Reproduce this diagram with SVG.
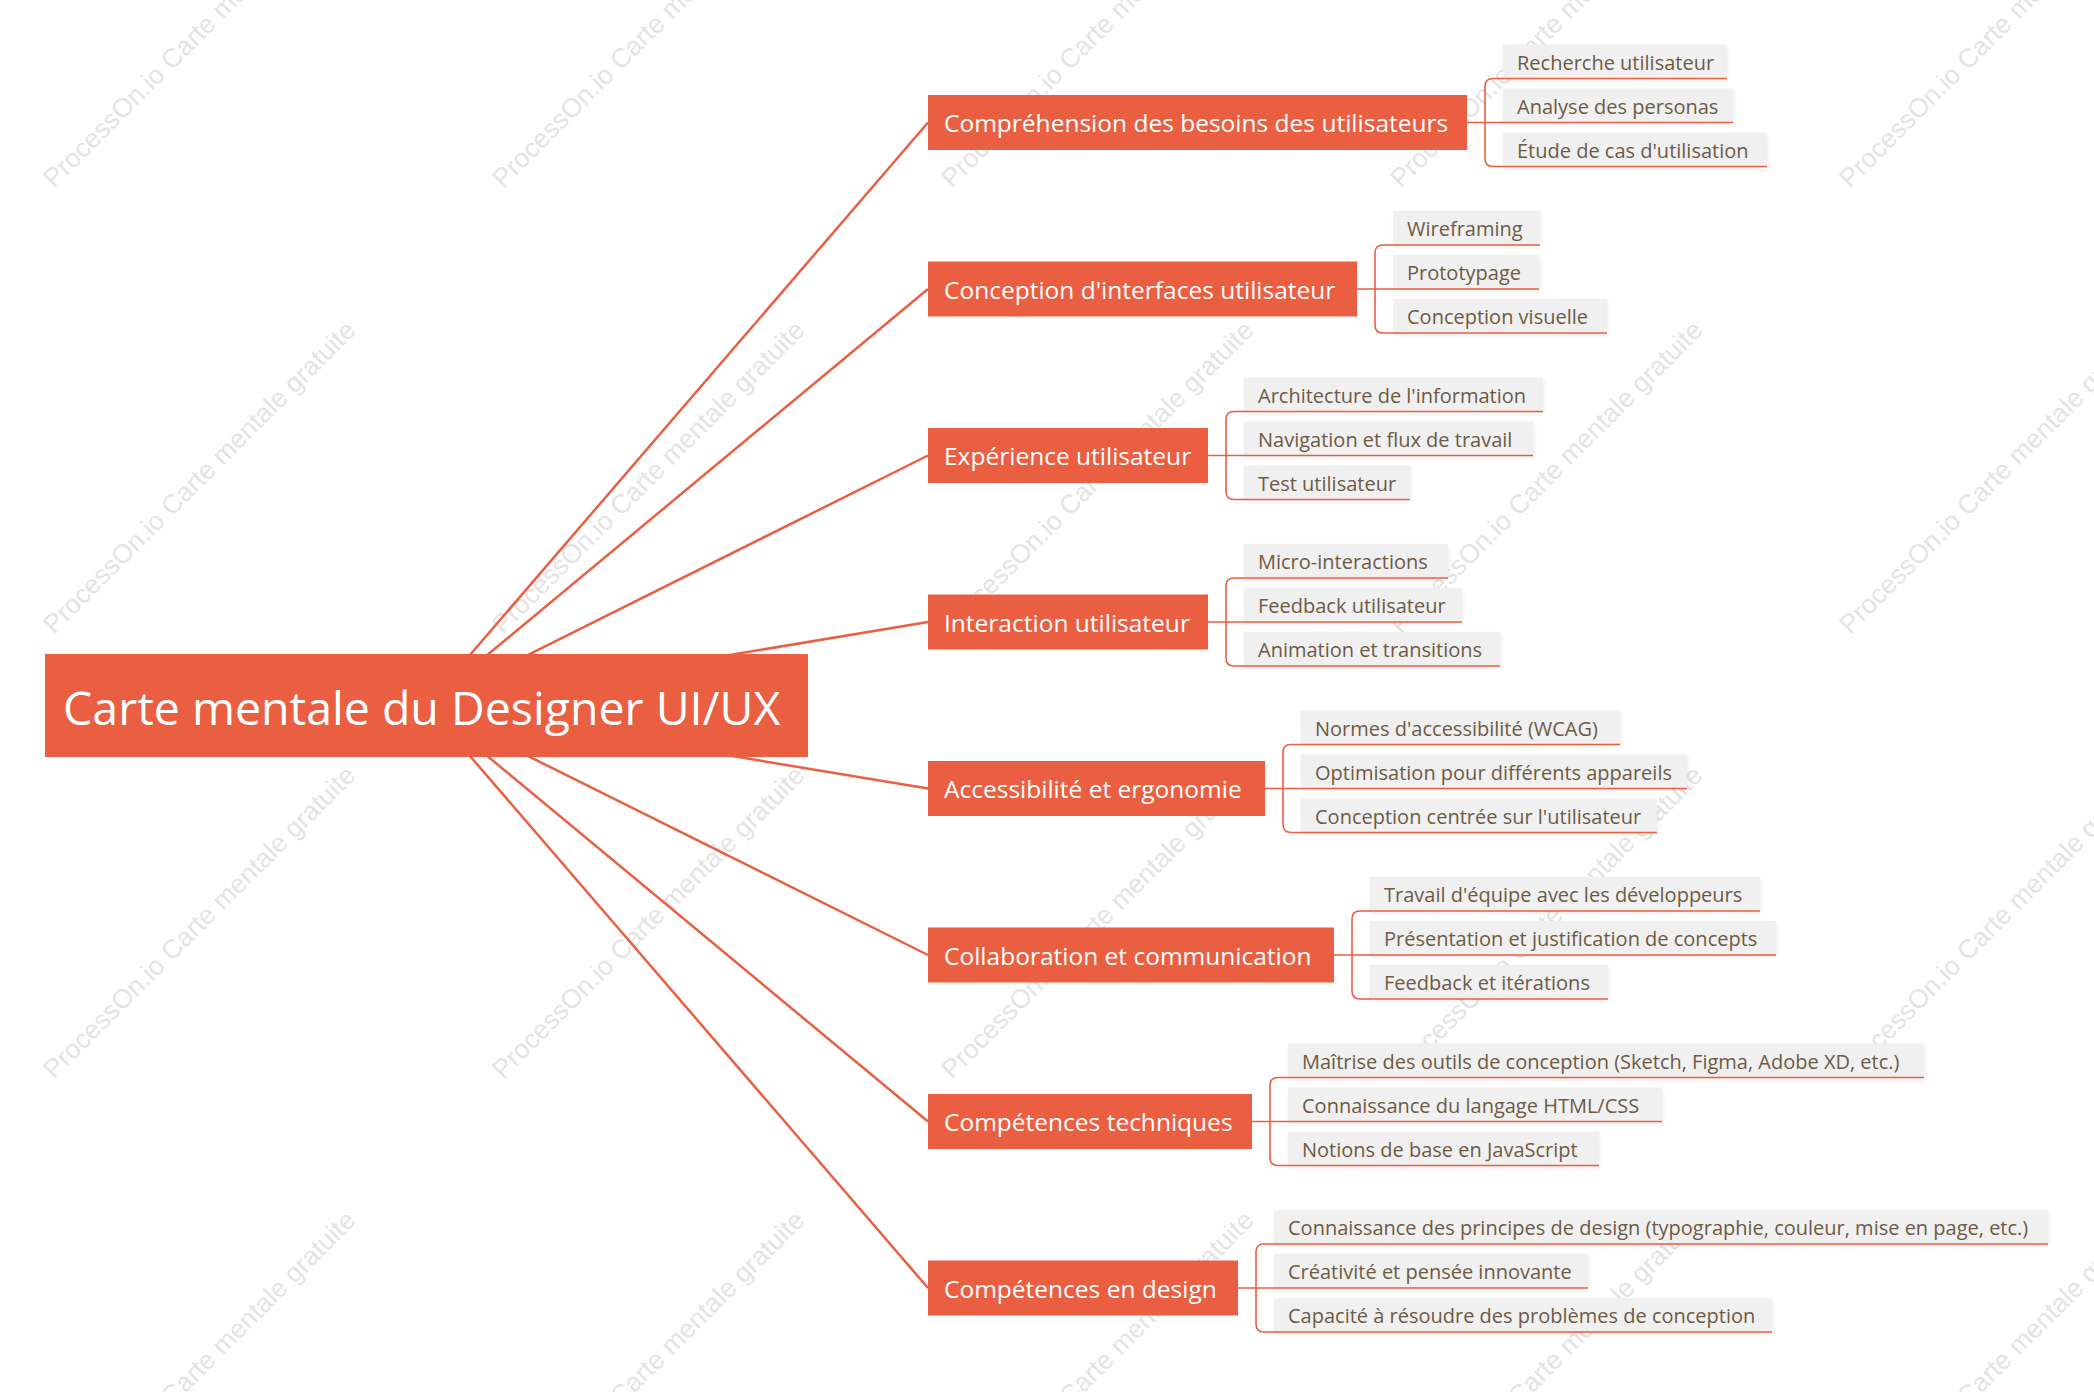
<svg xmlns="http://www.w3.org/2000/svg" width="2094" height="1392" viewBox="0 0 2094 1392">
<defs>
<style>
.wm{font-family:"Liberation Sans",Arial,sans-serif;font-size:26.5px;fill:#e4e4e4}
.ln{fill:none;stroke:#EA5F42;stroke-width:2.5}
.br{fill:none;stroke:#EA5F42;stroke-width:1.6}
.root{fill:#EA5F42}
.rt{font-family:"Open Sans","Noto Sans",sans-serif;font-size:46.5px;fill:#ffffff}
.main{fill:#EA5F42}
.mt{font-family:"Open Sans","Noto Sans",sans-serif;font-size:24.5px;fill:#ffffff}
.cb{fill:#f0f0f0;filter:url(#sh)}
.ul{stroke:#EA5F42;stroke-width:1.6}
.ct{font-family:"Open Sans","Noto Sans",sans-serif;font-size:20px;fill:#6E5A45}
</style>
<filter id="sh" x="-5%" y="-20%" width="110%" height="150%">
<feDropShadow dx="1" dy="2" stdDeviation="2" flood-color="#000" flood-opacity="0.08"/>
</filter>
</defs>
<rect width="2094" height="1392" fill="#ffffff"/>
<g id="watermarks">
<text class="wm" transform="translate(54,189) rotate(-45)">ProcessOn.io Carte mentale gratuite</text>
<text class="wm" transform="translate(503,189) rotate(-45)">ProcessOn.io Carte mentale gratuite</text>
<text class="wm" transform="translate(952,189) rotate(-45)">ProcessOn.io Carte mentale gratuite</text>
<text class="wm" transform="translate(1401,189) rotate(-45)">ProcessOn.io Carte mentale gratuite</text>
<text class="wm" transform="translate(1850,189) rotate(-45)">ProcessOn.io Carte mentale gratuite</text>
<text class="wm" transform="translate(54,635) rotate(-45)">ProcessOn.io Carte mentale gratuite</text>
<text class="wm" transform="translate(503,635) rotate(-45)">ProcessOn.io Carte mentale gratuite</text>
<text class="wm" transform="translate(952,635) rotate(-45)">ProcessOn.io Carte mentale gratuite</text>
<text class="wm" transform="translate(1401,635) rotate(-45)">ProcessOn.io Carte mentale gratuite</text>
<text class="wm" transform="translate(1850,635) rotate(-45)">ProcessOn.io Carte mentale gratuite</text>
<text class="wm" transform="translate(54,1080) rotate(-45)">ProcessOn.io Carte mentale gratuite</text>
<text class="wm" transform="translate(503,1080) rotate(-45)">ProcessOn.io Carte mentale gratuite</text>
<text class="wm" transform="translate(952,1080) rotate(-45)">ProcessOn.io Carte mentale gratuite</text>
<text class="wm" transform="translate(1401,1080) rotate(-45)">ProcessOn.io Carte mentale gratuite</text>
<text class="wm" transform="translate(1850,1080) rotate(-45)">ProcessOn.io Carte mentale gratuite</text>
<text class="wm" transform="translate(54,1525) rotate(-45)">ProcessOn.io Carte mentale gratuite</text>
<text class="wm" transform="translate(503,1525) rotate(-45)">ProcessOn.io Carte mentale gratuite</text>
<text class="wm" transform="translate(952,1525) rotate(-45)">ProcessOn.io Carte mentale gratuite</text>
<text class="wm" transform="translate(1401,1525) rotate(-45)">ProcessOn.io Carte mentale gratuite</text>
<text class="wm" transform="translate(1850,1525) rotate(-45)">ProcessOn.io Carte mentale gratuite</text>
</g>
<g id="connectors">
<path class="ln" d="M426.5 705.5 L928 122.5"/>
<path class="ln" d="M426.5 705.5 L928 289"/>
<path class="ln" d="M426.5 705.5 L928 455.5"/>
<path class="ln" d="M426.5 705.5 L928 622"/>
<path class="ln" d="M426.5 705.5 L928 788.5"/>
<path class="ln" d="M426.5 705.5 L928 955"/>
<path class="ln" d="M426.5 705.5 L928 1121.5"/>
<path class="ln" d="M426.5 705.5 L928 1288"/>
<path class="br" d="M1467 122.5 H1503 M1503 78.5 H1493 Q1485 78.5 1485 86.5 V158.5 Q1485 166.5 1493 166.5 H1503"/>
<path class="br" d="M1357 289 H1393 M1393 245 H1383 Q1375 245 1375 253 V325 Q1375 333 1383 333 H1393"/>
<path class="br" d="M1208 455.5 H1244 M1244 411.5 H1234 Q1226 411.5 1226 419.5 V491.5 Q1226 499.5 1234 499.5 H1244"/>
<path class="br" d="M1208 622 H1244 M1244 578 H1234 Q1226 578 1226 586 V658 Q1226 666 1234 666 H1244"/>
<path class="br" d="M1265 788.5 H1301 M1301 744.5 H1291 Q1283 744.5 1283 752.5 V824.5 Q1283 832.5 1291 832.5 H1301"/>
<path class="br" d="M1334 955 H1370 M1370 911 H1360 Q1352 911 1352 919 V991 Q1352 999 1360 999 H1370"/>
<path class="br" d="M1252 1121.5 H1288 M1288 1077.5 H1278 Q1270 1077.5 1270 1085.5 V1157.5 Q1270 1165.5 1278 1165.5 H1288"/>
<path class="br" d="M1238 1288 H1274 M1274 1244 H1264 Q1256 1244 1256 1252 V1324 Q1256 1332 1264 1332 H1274"/>
</g>
<g id="root">
<rect class="root" x="45" y="654" width="763" height="103"/>
<text class="rt" x="63" y="725">Carte mentale du Designer UI/UX</text>
</g>
<g id="n1"><rect class="main" x="928" y="95" width="539" height="55"/><text class="mt" x="944" y="132">Compréhension des besoins des utilisateurs</text></g>
<g id="n2"><rect class="main" x="928" y="261.5" width="429" height="55"/><text class="mt" x="944" y="298.5">Conception d'interfaces utilisateur</text></g>
<g id="n3"><rect class="main" x="928" y="428" width="280" height="55"/><text class="mt" x="944" y="465">Expérience utilisateur</text></g>
<g id="n4"><rect class="main" x="928" y="594.5" width="280" height="55"/><text class="mt" x="944" y="631.5">Interaction utilisateur</text></g>
<g id="n5"><rect class="main" x="928" y="761" width="337" height="55"/><text class="mt" x="944" y="798">Accessibilité et ergonomie</text></g>
<g id="n6"><rect class="main" x="928" y="927.5" width="406" height="55"/><text class="mt" x="944" y="964.5">Collaboration et communication</text></g>
<g id="n7"><rect class="main" x="928" y="1094" width="324" height="55"/><text class="mt" x="944" y="1131">Compétences techniques</text></g>
<g id="n8"><rect class="main" x="928" y="1260.5" width="310" height="55"/><text class="mt" x="944" y="1297.5">Compétences en design</text></g>

<g id="c1a"><rect class="cb" x="1503" y="44.5" width="224" height="34"/><line class="ul" x1="1503" y1="78.5" x2="1727" y2="78.5"/><text class="ct" x="1517" y="69.5">Recherche utilisateur</text></g>
<g id="c1b"><rect class="cb" x="1503" y="88.5" width="230" height="34"/><line class="ul" x1="1503" y1="122.5" x2="1733" y2="122.5"/><text class="ct" x="1517" y="113.5">Analyse des personas</text></g>
<g id="c1c"><rect class="cb" x="1503" y="132.5" width="264" height="34"/><line class="ul" x1="1503" y1="166.5" x2="1767" y2="166.5"/><text class="ct" x="1517" y="157.5">Étude de cas d'utilisation</text></g>

<g id="c2a"><rect class="cb" x="1393" y="211" width="147" height="34"/><line class="ul" x1="1393" y1="245" x2="1540" y2="245"/><text class="ct" x="1407" y="236">Wireframing</text></g>
<g id="c2b"><rect class="cb" x="1393" y="255" width="146" height="34"/><line class="ul" x1="1393" y1="289" x2="1539" y2="289"/><text class="ct" x="1407" y="280">Prototypage</text></g>
<g id="c2c"><rect class="cb" x="1393" y="299" width="214" height="34"/><line class="ul" x1="1393" y1="333" x2="1607" y2="333"/><text class="ct" x="1407" y="324">Conception visuelle</text></g>

<g id="c3a"><rect class="cb" x="1244" y="377.5" width="299" height="34"/><line class="ul" x1="1244" y1="411.5" x2="1543" y2="411.5"/><text class="ct" x="1258" y="402.5">Architecture de l'information</text></g>
<g id="c3b"><rect class="cb" x="1244" y="421.5" width="289" height="34"/><line class="ul" x1="1244" y1="455.5" x2="1533" y2="455.5"/><text class="ct" x="1258" y="446.5">Navigation et flux de travail</text></g>
<g id="c3c"><rect class="cb" x="1244" y="465.5" width="166" height="34"/><line class="ul" x1="1244" y1="499.5" x2="1410" y2="499.5"/><text class="ct" x="1258" y="490.5">Test utilisateur</text></g>

<g id="c4a"><rect class="cb" x="1244" y="544" width="204" height="34"/><line class="ul" x1="1244" y1="578" x2="1448" y2="578"/><text class="ct" x="1258" y="569">Micro-interactions</text></g>
<g id="c4b"><rect class="cb" x="1244" y="588" width="218" height="34"/><line class="ul" x1="1244" y1="622" x2="1462" y2="622"/><text class="ct" x="1258" y="613">Feedback utilisateur</text></g>
<g id="c4c"><rect class="cb" x="1244" y="632" width="256" height="34"/><line class="ul" x1="1244" y1="666" x2="1500" y2="666"/><text class="ct" x="1258" y="657">Animation et transitions</text></g>

<g id="c5a"><rect class="cb" x="1301" y="710.5" width="319" height="34"/><line class="ul" x1="1301" y1="744.5" x2="1620" y2="744.5"/><text class="ct" x="1315" y="735.5">Normes d'accessibilité (WCAG)</text></g>
<g id="c5b"><rect class="cb" x="1301" y="754.5" width="386" height="34"/><line class="ul" x1="1301" y1="788.5" x2="1687" y2="788.5"/><text class="ct" x="1315" y="779.5">Optimisation pour différents appareils</text></g>
<g id="c5c"><rect class="cb" x="1301" y="798.5" width="356" height="34"/><line class="ul" x1="1301" y1="832.5" x2="1657" y2="832.5"/><text class="ct" x="1315" y="823.5">Conception centrée sur l'utilisateur</text></g>

<g id="c6a"><rect class="cb" x="1370" y="877" width="390" height="34"/><line class="ul" x1="1370" y1="911" x2="1760" y2="911"/><text class="ct" x="1384" y="902">Travail d'équipe avec les développeurs</text></g>
<g id="c6b"><rect class="cb" x="1370" y="921" width="406" height="34"/><line class="ul" x1="1370" y1="955" x2="1776" y2="955"/><text class="ct" x="1384" y="946">Présentation et justification de concepts</text></g>
<g id="c6c"><rect class="cb" x="1370" y="965" width="238" height="34"/><line class="ul" x1="1370" y1="999" x2="1608" y2="999"/><text class="ct" x="1384" y="990">Feedback et itérations</text></g>

<g id="c7a"><rect class="cb" x="1288" y="1043.5" width="636" height="34"/><line class="ul" x1="1288" y1="1077.5" x2="1924" y2="1077.5"/><text class="ct" x="1302" y="1068.5">Maîtrise des outils de conception (Sketch, Figma, Adobe XD, etc.)</text></g>
<g id="c7b"><rect class="cb" x="1288" y="1087.5" width="374" height="34"/><line class="ul" x1="1288" y1="1121.5" x2="1662" y2="1121.5"/><text class="ct" x="1302" y="1112.5">Connaissance du langage HTML/CSS</text></g>
<g id="c7c"><rect class="cb" x="1288" y="1131.5" width="311" height="34"/><line class="ul" x1="1288" y1="1165.5" x2="1599" y2="1165.5"/><text class="ct" x="1302" y="1156.5">Notions de base en JavaScript</text></g>

<g id="c8a"><rect class="cb" x="1274" y="1210" width="774" height="34"/><line class="ul" x1="1274" y1="1244" x2="2048" y2="1244"/><text class="ct" x="1288" y="1235">Connaissance des principes de design (typographie, couleur, mise en page, etc.)</text></g>
<g id="c8b"><rect class="cb" x="1274" y="1254" width="314" height="34"/><line class="ul" x1="1274" y1="1288" x2="1588" y2="1288"/><text class="ct" x="1288" y="1279">Créativité et pensée innovante</text></g>
<g id="c8c"><rect class="cb" x="1274" y="1298" width="498" height="34"/><line class="ul" x1="1274" y1="1332" x2="1772" y2="1332"/><text class="ct" x="1288" y="1323">Capacité à résoudre des problèmes de conception</text></g>
</svg>
